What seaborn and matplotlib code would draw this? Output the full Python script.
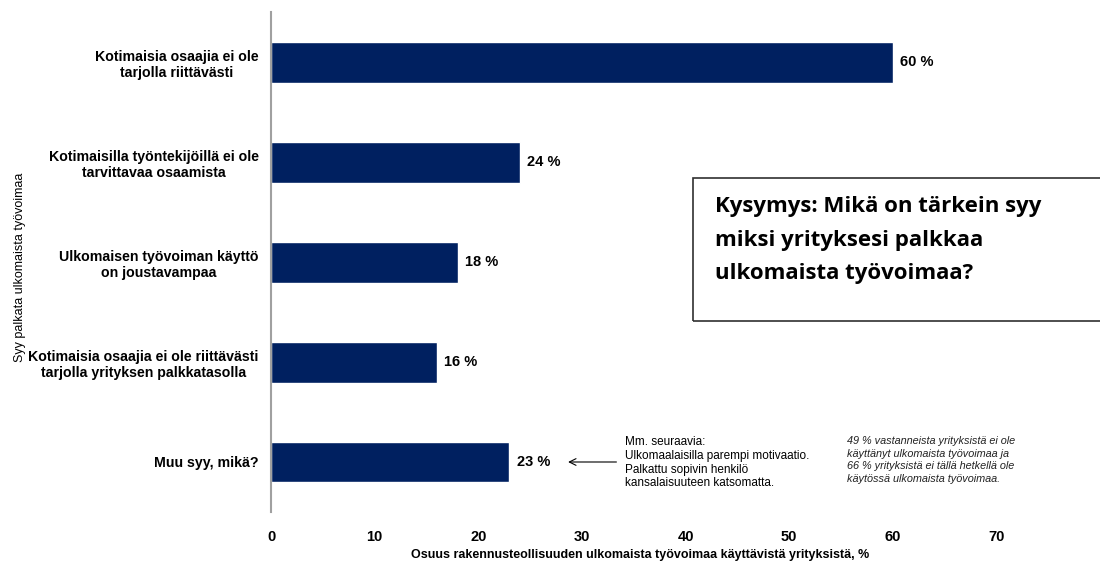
import matplotlib
matplotlib.use("Agg")
import matplotlib.pyplot as plt
import seaborn as sns
import pandas as pd

categories = [
    "Kotimaisia osaajia ei ole\ntarjolla riittävästi",
    "Kotimaisilla työntekijöillä ei ole\ntarvittavaa osaamista",
    "Ulkomaisen työvoiman käyttö\non joustavampaa",
    "Kotimaisia osaajia ei ole riittävästi\ntarjolla yrityksen palkkatasolla",
    "Muu syy, mikä?",
]
shares = [60, 24, 18, 16, 23]
x_ticks = [0, 10, 20, 30, 40, 50, 60, 70]

df = pd.DataFrame({"syy": categories, "osuus": shares})

sns.set_theme(style="white")
plt.rcParams["font.family"] = ["Liberation Sans", "DejaVu Sans"]
plt.rcParams.update({"text.color": "black", "axes.labelcolor": "black",
                     "xtick.color": "black", "ytick.color": "black"})

fig = plt.figure(figsize=(11, 5.63), dpi=100)
ax = fig.add_axes([0.2464, 0.0906, 0.7536, 0.888])

bar_color = "#002060"
sns.barplot(data=df, x="osuus", y="syy", orient="h", color=bar_color,
            width=0.41, saturation=1, ax=ax)

ax.set_xlim(0, 80)
ax.set_ylim(4.5, -0.5)
ax.set_xticks(x_ticks)
ax.set_xticklabels([str(t) for t in x_ticks], fontsize=10.5, fontweight="bold")
ax.tick_params(axis="x", length=0, pad=13, labelcolor="black")
ax.tick_params(axis="y", length=0, pad=9, labelcolor="black")
for lbl in ax.get_yticklabels():
    lbl.set_fontweight("bold")
    lbl.set_fontsize(10.2)
    lbl.set_horizontalalignment("right")
    lbl.set_multialignment("center")

for s in ["top", "right", "bottom"]:
    ax.spines[s].set_visible(False)
ax.spines["left"].set_color("#a0a0a0")
ax.spines["left"].set_linewidth(1.5)

# value labels
for i, v in enumerate(shares):
    ax.text(v + 0.7, i, f"{v} %", va="center", ha="left",
            fontsize=10.5, fontweight="bold", color="black")

ax.set_xlabel("Osuus rakennusteollisuuden ulkomaista työvoimaa käyttävistä yrityksistä, %",
              fontsize=9, fontweight="bold", color="black")
ax.xaxis.set_label_coords(0.445, -0.074)
ax.set_ylabel("Syy palkata ulkomaista työvoimaa", fontsize=9, color="black")
ax.yaxis.set_label_coords(-0.296, 0.49)

# question box
fig.text(0.650, 0.573,
         "Kysymys: Mikä on tärkein syy\nmiksi yrityksesi palkkaa\nulkomaista työvoimaa?",
         fontsize=16, fontweight="bold", family=["Open Sans", "DejaVu Sans"],
         va="center", ha="left", linespacing=1.78, color="black")
box = plt.Rectangle((0.630, 0.430), 0.372, 0.253, transform=fig.transFigure,
                    fill=False, ec="#303030", lw=1.2)
fig.add_artist(box)

# annotation for "Muu syy"
ax.annotate("", xy=(28.4, 4), xytext=(33.6, 4),
            arrowprops=dict(arrowstyle="->", color="black", lw=0.8))
ax.text(34.2, 3.74,
        "Mm. seuraavia:\nUlkomaalaisilla parempi motivaatio.\nPalkattu sopivin henkilö\nkansalaisuuteen katsomatta.",
        fontsize=8.5, va="top", ha="left", linespacing=1.2, color="black")
ax.text(55.6, 3.74,
        "49 % vastanneista yrityksistä ei ole\nkäyttänyt ulkomaista työvoimaa ja\n66 % yrityksistä ei tällä hetkellä ole\nkäytössä ulkomaista työvoimaa.",
        fontsize=7.8, va="top", ha="left", style="italic", linespacing=1.33,
        color="#222222")

fig.savefig("out.png", dpi=100, facecolor="white")
